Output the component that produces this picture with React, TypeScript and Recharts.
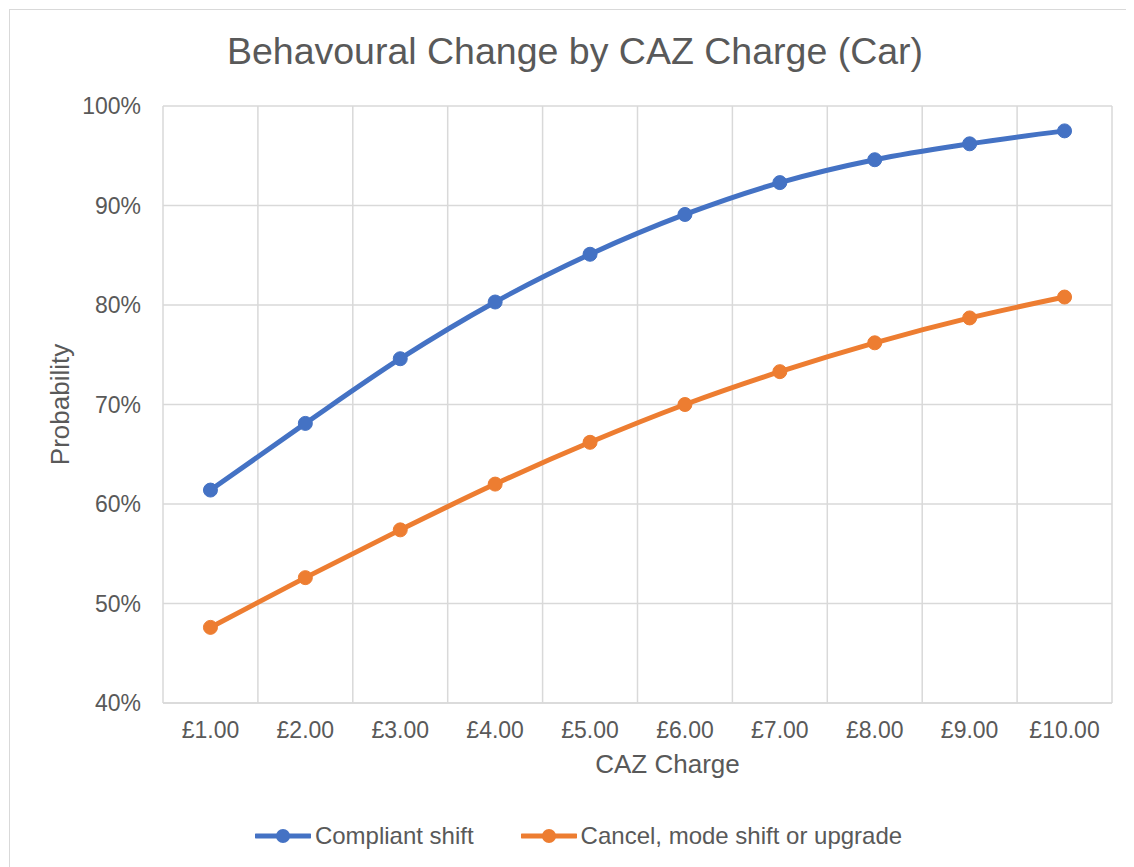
import React from 'react';
import { LineChart, Line, XAxis, YAxis, CartesianGrid, Legend } from 'recharts';

const charges = [1, 2, 3, 4, 5, 6, 7, 8, 9, 10];
const chargeLabels = ['£1.00', '£2.00', '£3.00', '£4.00', '£5.00', '£6.00', '£7.00', '£8.00', '£9.00', '£10.00'];
const compliantShift = [0.614, 0.681, 0.746, 0.803, 0.851, 0.891, 0.923, 0.946, 0.962, 0.975];
const cancelModeShift = [0.476, 0.526, 0.574, 0.62, 0.662, 0.7, 0.733, 0.762, 0.787, 0.808];
const yTicks = [0.4, 0.5, 0.6, 0.7, 0.8, 0.9, 1.0];
const seriesNames = ['Compliant shift', 'Cancel, mode shift or upgrade'];
const seriesColors = ['#4472C4', '#ED7D31'];
const gridTicks = [...charges.map((c) => c - 0.5), charges[charges.length - 1] + 0.5];

const FONT = '"Liberation Sans", Arial, sans-serif';
const TEXT = '#595959';
const GRID = '#D9D9D9';

const data = charges.map((c, i) => ({
  charge: c,
  compliant: compliantShift[i],
  cancel: cancelModeShift[i],
}));

const YTitle = (props: any) => {
  const vb = props.viewBox || {};
  const cx = 52;
  const cy = vb.y + vb.height / 2;
  return (
    <text x={cx} y={cy} transform={`rotate(-90 ${cx} ${cy})`} textAnchor="middle" dominantBaseline="central" fontSize={26} fill={TEXT} fontFamily={FONT}>
      Probability
    </text>
  );
};

const XTitle = (props: any) => {
  const vb = props.viewBox || {};
  const cx = vb.x + vb.width / 2 + 30;
  return (
    <text x={cx} y={765} textAnchor="middle" fontSize={26} fill={TEXT} fontFamily={FONT}>
      CAZ Charge
    </text>
  );
};

const renderLegend = () => {
  return (
    <div style={{ display: 'flex', justifyContent: 'center', alignItems: 'center', paddingLeft: 15, fontFamily: FONT }}>
      {seriesNames.map((name, i) => (
        <div key={i} style={{ display: 'flex', alignItems: 'center', marginLeft: i === 0 ? 0 : 47 }}>
          <svg width={56} height={18} style={{ display: 'block' }}>
            <line x1={1} y1={9} x2={55} y2={9} stroke={seriesColors[i]} strokeWidth={5} strokeLinecap="round" />
            <circle cx={28} cy={9} r={7} fill={seriesColors[i]} />
          </svg>
          <span style={{ fontSize: 24, color: TEXT, marginLeft: 4, lineHeight: '28px' }}>{name}</span>
        </div>
      ))}
    </div>
  );
};

export default function App() {
  return (
    <div style={{ position: 'relative', width: 1126, height: 859, overflow: 'hidden', fontFamily: FONT, background: '#fff' }}>
      <div style={{ position: 'absolute', left: 1, top: 1, width: 2000, height: 2000, borderTop: `1px solid ${GRID}`, borderLeft: `1px solid ${GRID}` }} />
      <div style={{ position: 'absolute', left: 0, top: 0 }}>
        <LineChart width={1126} height={859} data={data} margin={{ top: 98, right: 22, bottom: 0, left: 0 }}>
          <text x={567} y={56} textAnchor="middle" fontSize={37.5} fill={TEXT} fontFamily={FONT}>
            Behavoural Change by CAZ Charge (Car)
          </text>
          <CartesianGrid xAxisId="grid" stroke={GRID} strokeWidth={1.5} />
          <XAxis
            xAxisId="grid"
            dataKey="charge"
            type="number"
            domain={[0.5, 10.5]}
            ticks={gridTicks}
            hide
          />
          <XAxis
            dataKey="charge"
            type="number"
            domain={[0.5, 10.5]}
            ticks={charges}
            interval={0}
            tickFormatter={(v: number) => chargeLabels[charges.indexOf(v)]}
            height={164}
            tickSize={0}
            tickMargin={19}
            tickLine={false}
            axisLine={{ stroke: GRID, strokeWidth: 1.5 }}
            tick={{ fill: TEXT, fontSize: 23, fontFamily: FONT }}
            label={<XTitle />}
          />
          <YAxis
            type="number"
            domain={[0.4, 1]}
            ticks={yTicks}
            interval={0}
            width={155}
            tickSize={0}
            tickMargin={22}
            tickLine={false}
            axisLine={false}
            tickFormatter={(v: number) => `${Math.round(v * 100)}%`}
            tick={{ fill: TEXT, fontSize: 23, fontFamily: FONT }}
            label={<YTitle />}
          />
          <Line
            type="monotone"
            dataKey="compliant"
            name={seriesNames[0]}
            stroke={seriesColors[0]}
            strokeWidth={5}
            dot={{ r: 7, fill: seriesColors[0], stroke: seriesColors[0], strokeWidth: 1 }}
            activeDot={false}
            isAnimationActive={false}
          />
          <Line
            type="monotone"
            dataKey="cancel"
            name={seriesNames[1]}
            stroke={seriesColors[1]}
            strokeWidth={5}
            dot={{ r: 7, fill: seriesColors[1], stroke: seriesColors[1], strokeWidth: 1 }}
            activeDot={false}
            isAnimationActive={false}
          />
          <Legend
            layout="horizontal"
            verticalAlign="middle"
            align="center"
            wrapperStyle={{ top: 814, left: 0, width: 1126 }}
            content={renderLegend}
          />
        </LineChart>
      </div>
    </div>
  );
}
